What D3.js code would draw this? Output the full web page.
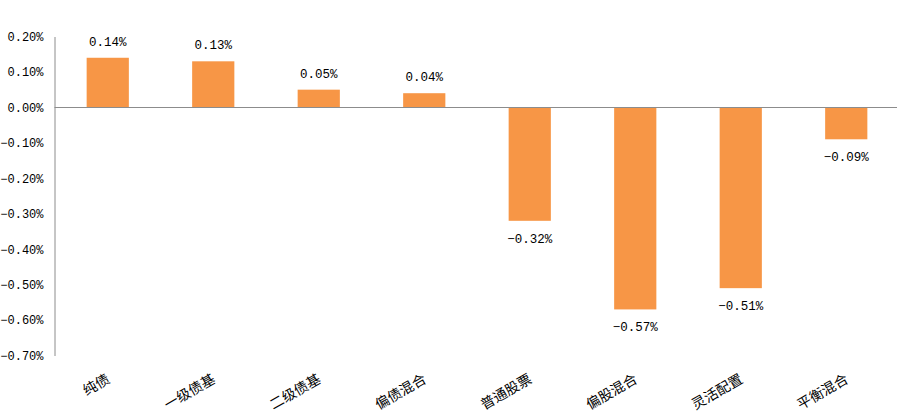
<!DOCTYPE html>
<html>
<head>
<meta charset="utf-8">
<script src="https://cdn.jsdelivr.net/npm/d3@7"></script>
<style>
  html, body { margin: 0; padding: 0; background: #ffffff; }
  svg { display: block; }
</style>
</head>
<body>
<svg id="chart" width="897" height="415"></svg>
<script>
// Fund categories and their returns (percent)
const categories = ["纯债", "一级债基", "二级债基", "偏债混合", "普通股票", "偏股混合", "灵活配置", "平衡混合"];
const returns = [0.14, 0.13, 0.05, 0.04, -0.32, -0.57, -0.51, -0.09];
const yTicks = [0.2, 0.1, 0.0, -0.1, -0.2, -0.3, -0.4, -0.5, -0.6, -0.7];

const svg = d3.select("#chart");
const numFont = "'Liberation Mono', 'DejaVu Sans Mono', monospace";
const cjkFont = "'Noto Sans CJK SC', sans-serif";

const axisX = 54.5;
const x = d3.scaleBand()
  .domain(categories)
  .range([55, 899])
  .paddingInner(0.6)
  .paddingOuter(0.3);

const y = d3.scaleLinear()
  .domain([-0.7, 0.2])
  .range([355.5, 36.5]);

// y axis: labels only, plus a vertical line
const yAxis = d3.axisLeft(y)
  .tickValues(yTicks)
  .tickSize(0)
  .tickPadding(11)
  .tickFormat(d => d3.format(".2f")(d) + "%");

const gy = svg.append("g")
  .attr("transform", `translate(${axisX},0)`)
  .call(yAxis);
gy.select(".domain").attr("stroke", "#8c8c8c").attr("stroke-width", 1);
gy.selectAll("text")
  .attr("font-family", numFont)
  .attr("font-size", 12)
  .attr("fill", "#000");

// bars
svg.append("g")
  .selectAll("rect")
  .data(returns)
  .join("rect")
  .attr("x", (d, i) => x(categories[i]))
  .attr("width", x.bandwidth())
  .attr("y", d => y(Math.max(0, d)))
  .attr("height", d => Math.abs(y(d) - y(0)))
  .attr("fill", "#F79646");

// zero baseline
svg.append("line")
  .attr("x1", axisX)
  .attr("x2", 897)
  .attr("y1", Math.round(y(0)) + 0.5)
  .attr("y2", Math.round(y(0)) + 0.5)
  .attr("stroke", "#8c8c8c")
  .attr("stroke-width", 1);

// value labels
svg.append("g")
  .selectAll("text")
  .data(returns)
  .join("text")
  .attr("x", (d, i) => x(categories[i]) + x.bandwidth() / 2)
  .attr("y", d => d >= 0 ? y(d) - 12 : y(d) + 22)
  .attr("text-anchor", "middle")
  .attr("font-family", numFont)
  .attr("font-size", 12.5)
  .attr("fill", "#000")
  .text(d => d3.format(".2f")(d) + "%");

// rotated category labels
svg.append("g")
  .selectAll("text")
  .data(categories)
  .join("text")
  .attr("transform", d => `translate(${x(d) + x.bandwidth() / 2 + 3},382) rotate(-30)`)
  .attr("text-anchor", "end")
  .attr("font-family", cjkFont)
  .attr("font-size", 14)
  .attr("fill", "#000")
  .text(d => d);
</script>
</body>
</html>
